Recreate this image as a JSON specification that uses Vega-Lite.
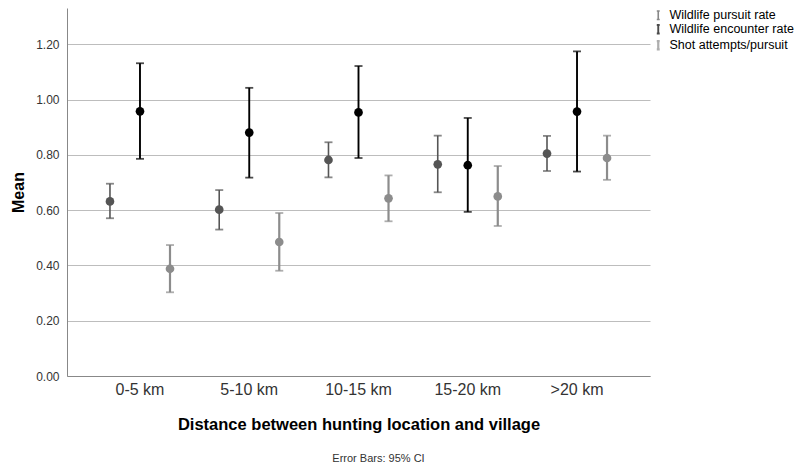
{
  "$schema": "https://vega.github.io/schema/vega-lite/v6.json",
  "width": 583,
  "height": 368,
  "autosize": "none",
  "padding": {"left": 67, "top": 8, "right": 152, "bottom": 89},
  "background": "white",
  "config": {
    "font": "Liberation Sans",
    "view": {"stroke": null},
    "axis": {"labelFont": "Liberation Sans", "titleFont": "Liberation Sans"}
  },
  "title": {
    "text": "Error Bars: 95% CI",
    "orient": "bottom",
    "fontSize": 11,
    "fontWeight": "normal",
    "color": "#333333",
    "offset": 20,
    "dx": 20,
    "font": "Liberation Sans"
  },
  "data": {
    "values": [
      {"distance": "0-5 km", "measure": "Wildlife pursuit rate", "mean": 0.632, "lo": 0.571, "hi": 0.696},
      {"distance": "0-5 km", "measure": "Wildlife encounter rate", "mean": 0.958, "lo": 0.786, "hi": 1.132},
      {"distance": "0-5 km", "measure": "Shot attempts/pursuit", "mean": 0.388, "lo": 0.303, "hi": 0.474},
      {"distance": "5-10 km", "measure": "Wildlife pursuit rate", "mean": 0.602, "lo": 0.530, "hi": 0.673},
      {"distance": "5-10 km", "measure": "Wildlife encounter rate", "mean": 0.881, "lo": 0.718, "hi": 1.043},
      {"distance": "5-10 km", "measure": "Shot attempts/pursuit", "mean": 0.485, "lo": 0.381, "hi": 0.590},
      {"distance": "10-15 km", "measure": "Wildlife pursuit rate", "mean": 0.782, "lo": 0.719, "hi": 0.846},
      {"distance": "10-15 km", "measure": "Wildlife encounter rate", "mean": 0.954, "lo": 0.789, "hi": 1.122},
      {"distance": "10-15 km", "measure": "Shot attempts/pursuit", "mean": 0.643, "lo": 0.560, "hi": 0.726},
      {"distance": "15-20 km", "measure": "Wildlife pursuit rate", "mean": 0.766, "lo": 0.665, "hi": 0.870},
      {"distance": "15-20 km", "measure": "Wildlife encounter rate", "mean": 0.763, "lo": 0.594, "hi": 0.934},
      {"distance": "15-20 km", "measure": "Shot attempts/pursuit", "mean": 0.650, "lo": 0.543, "hi": 0.760},
      {"distance": ">20 km", "measure": "Wildlife pursuit rate", "mean": 0.805, "lo": 0.742, "hi": 0.869},
      {"distance": ">20 km", "measure": "Wildlife encounter rate", "mean": 0.957, "lo": 0.740, "hi": 1.175},
      {"distance": ">20 km", "measure": "Shot attempts/pursuit", "mean": 0.789, "lo": 0.710, "hi": 0.870}
    ]
  },
  "encoding": {
    "x": {
      "field": "distance",
      "type": "nominal",
      "sort": ["0-5 km", "5-10 km", "10-15 km", "15-20 km", ">20 km"],
      "scale": {"paddingInner": 0, "paddingOuter": 0.168},
      "axis": {
        "title": "Distance between hunting location and village",
        "labelAngle": 0,
        "labelFontSize": 16,
        "labelColor": "#333333",
        "labelPadding": 5,
        "ticks": false,
        "domainColor": "#888888",
        "domainWidth": 1,
        "titleFontSize": 16.5,
        "titleFontWeight": "bold",
        "titleColor": "#000000",
        "titlePadding": 19
      }
    },
    "xOffset": {
      "field": "measure",
      "type": "nominal",
      "sort": ["Wildlife pursuit rate", "Wildlife encounter rate", "Shot attempts/pursuit"],
      "scale": {"paddingInner": 0, "paddingOuter": 0.32}
    },
    "color": {
      "field": "measure",
      "type": "nominal",
      "scale": {
        "domain": ["Wildlife pursuit rate", "Wildlife encounter rate", "Shot attempts/pursuit"],
        "range": ["#555555", "#000000", "#8c8c8c"]
      },
      "legend": {
        "title": null,
        "orient": "none",
        "legendX": 585,
        "legendY": 1,
        "symbolType": "M -0.35 -1 L 0.35 -1 M 0 -1 L 0 1 M -0.35 1 L 0.35 1",
        "symbolSize": 70,
        "symbolStrokeWidth": 1.6,
        "symbolFillColor": "transparent",
        "labelFontSize": 12.5,
        "labelColor": "#000000",
        "labelFont": "Liberation Sans",
        "rowPadding": -2,
        "labelOffset": 5
      }
    }
  },
  "layer": [
    {
      "mark": {"type": "rule"},
      "encoding": {
        "y": {
          "field": "lo",
          "type": "quantitative",
          "scale": {"domain": [0, 1.332], "nice": false},
          "axis": {
            "title": "Mean",
            "values": [0, 0.2, 0.4, 0.6, 0.8, 1.0, 1.2],
            "format": ".2f",
            "labelFontSize": 12,
            "labelColor": "#333333",
            "labelPadding": 8,
            "ticks": false,
            "grid": true,
            "gridColor": "#bdbdbd",
            "gridWidth": 1,
            "domainColor": "#888888",
            "domainWidth": 1,
            "titleFontSize": 16,
            "titleFontWeight": "bold",
            "titleColor": "#000000",
            "titlePadding": 9
          }
        },
        "y2": {"field": "hi"},
        "strokeWidth": {
          "field": "measure",
          "type": "nominal",
          "scale": {
            "domain": ["Wildlife pursuit rate", "Wildlife encounter rate", "Shot attempts/pursuit"],
            "range": [1.6, 2.2, 1.6]
          },
          "legend": null
        }
      }
    },
    {
      "mark": {"type": "tick", "orient": "horizontal", "size": 8, "thickness": 1.8},
      "encoding": {"y": {"field": "lo", "type": "quantitative"}}
    },
    {
      "mark": {"type": "tick", "orient": "horizontal", "size": 8, "thickness": 1.8},
      "encoding": {"y": {"field": "hi", "type": "quantitative"}}
    },
    {
      "mark": {"type": "point", "shape": "circle", "filled": true, "opacity": 1, "size": 75},
      "encoding": {"y": {"field": "mean", "type": "quantitative"}}
    }
  ]
}
